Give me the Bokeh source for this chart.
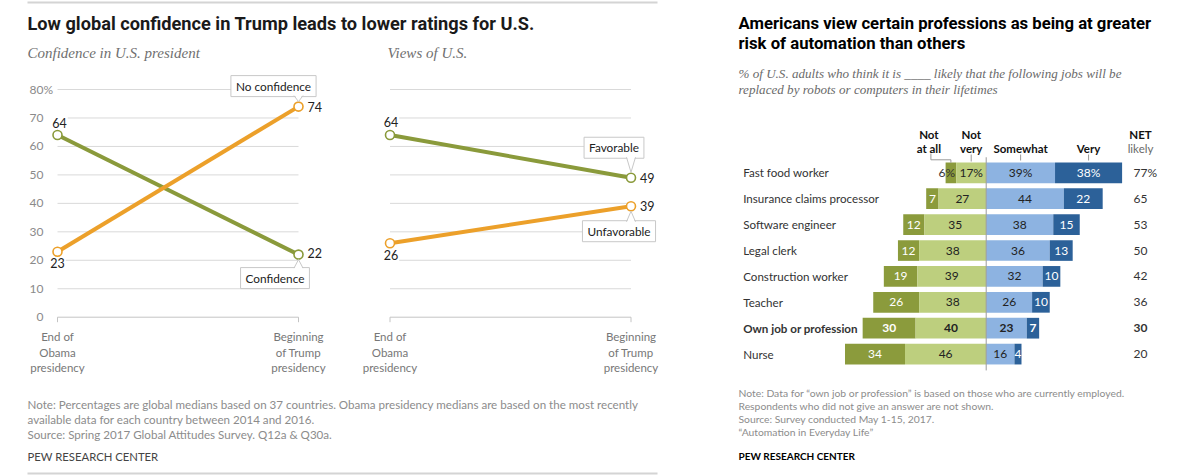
from bokeh.plotting import figure
from bokeh.models import Range1d, ColumnDataSource
from bokeh.layouts import row
from bokeh.embed import file_html
from bokeh.resources import INLINE
from bokeh.core.properties import value

# ---------------- data: left panel ----------------
periods = ["End of\nObama\npresidency", "Beginning\nof Trump\npresidency"]
confidence = [64, 22]
no_confidence = [23, 74]
favorable = [64, 49]
unfavorable = [26, 39]
y_ticks = [0, 10, 20, 30, 40, 50, 60, 70, 80]
y_tick_labels = ["0", "10", "20", "30", "40", "50", "60", "70", "80"]

# ---------------- data: right panel ----------------
jobs = ["Fast food worker", "Insurance claims processor", "Software engineer",
        "Legal clerk", "Construction worker", "Teacher",
        "Own job or profession", "Nurse"]
not_at_all = [6, 7, 12, 12, 19, 26, 30, 34]
not_very = [17, 27, 35, 38, 39, 38, 40, 46]
somewhat = [39, 44, 38, 36, 32, 26, 23, 16]
very = [38, 22, 15, 13, 10, 10, 7, 4]
net_likely = [77, 65, 53, 50, 42, 36, 30, 20]

# ---------------- styles ----------------
SANS = value("Lato")
HEAD = value("Roboto")
SERIF = value("Liberation Serif")
GREEN = "#8a9a3b"
ORANGE = "#eca02a"
C_NOTALL = "#8b9b3c"
C_NOTVERY = "#bdcf7e"
C_SOME = "#8db3e1"
C_VERY = "#2c6199"
GRID = "#d9d9d9"
NOTE = "#8c8c8c"


def make_canvas(w, h):
    p = figure(width=w, height=h, x_range=Range1d(0, w), y_range=Range1d(h, 0),
               output_backend="svg", toolbar_location=None,
               x_axis_location=None, y_axis_location=None, min_border=0,
               outline_line_color=None, background_fill_color="white",
               border_fill_color="white")
    p.xgrid.visible = False
    p.ygrid.visible = False
    return p


def ptext(p, x, y, s, size, color="#333333", style="normal", font=SANS,
          align="left", baseline="middle", **kw):
    p.text(x=[x], y=[y], text=[s], text_font=font, text_font_size=f"{size}px",
           text_color=color, text_font_style=style, text_align=align,
           text_baseline=baseline, **kw)


# =============== LEFT PANEL =================
LW, LH = 688, 476
Y_ZERO = 316.7      # screen y of value 0
Y_PX = 2.846        # px per percentage point
X_PX = 241.0        # px between the two periods
X0 = {"conf": 57.0, "views": 389.5}

L = make_canvas(LW, LH)
L.extra_x_ranges = {k: Range1d(-v / X_PX, (LW - v) / X_PX) for k, v in X0.items()}
L.extra_y_ranges = {"val": Range1d((Y_ZERO - LH) / Y_PX, Y_ZERO / Y_PX)}
xs = list(range(len(periods)))


def dv(px):
    """screen px offset (down positive) -> value delta"""
    return -px / Y_PX


def slope_panel(rn, series, labels, callouts, show_ticks):
    kw = dict(x_range_name=rn, y_range_name="val")
    # grid
    L.segment(x0=[xs[0]] * (len(y_ticks) - 1), x1=[xs[-1]] * (len(y_ticks) - 1),
              y0=y_ticks[1:], y1=y_ticks[1:], line_color=GRID, line_width=1, **kw)
    L.segment(x0=[xs[0]], x1=[xs[-1]], y0=[y_ticks[0]], y1=[y_ticks[0]],
              line_color="#c4c4c4", line_width=1, **kw)
    L.segment(x0=xs, x1=xs, y0=[0] * len(xs), y1=[dv(5)] * len(xs),
              line_color="#c4c4c4", line_width=1, **kw)
    if show_ticks:
        L.text(x=[xs[0]] * len(y_ticks), y=y_ticks, text=y_tick_labels,
               x_offset=-14, text_align="right", text_baseline="middle",
               text_font=SANS, text_font_size="12px", text_color="#8a8a8a", **kw)
        L.text(x=[xs[0]], y=[y_ticks[-1]], text=["%"], x_offset=-14,
               text_align="left", text_baseline="middle",
               text_font=SANS, text_font_size="12px", text_color="#8a8a8a", **kw)
    # period labels
    L.text(x=xs, y=[0] * len(xs), text=periods, y_offset=13, text_align="center",
           text_baseline="top", text_font=SANS, text_font_size="11.5px",
           text_color="#777777", text_line_height=1.2, **kw)
    # value labels (white background masks gridlines)
    for (vals, i, dx, dy, align) in labels:
        L.text(x=[xs[i]], y=[vals[i]], text=[str(vals[i])], x_offset=dx, y_offset=dy,
               text_align=align, text_baseline="middle", text_font=SANS,
               text_font_size="12.5px", text_color="#222222",
               background_fill_color="white", padding=1, **kw)
    # lines + markers
    for vals, color in series:
        L.line(x=xs, y=vals, line_color=color, line_width=4, **kw)
        L.scatter(x=xs, y=vals, size=9, fill_color="white", line_color=color,
                  line_width=1.6, **kw)
    # callouts
    half = 4.5 / X_PX
    for (name, vals, i, dx, dy, edge, tip) in callouts:
        x, v = xs[i], vals[i]
        L.text(x=[x], y=[v], text=[name], x_offset=dx, y_offset=dy,
               text_align="center", text_baseline="middle", text_font=SANS,
               text_font_size="11.8px", text_color="#222222",
               background_fill_color="white", border_line_color="#c8c8c8",
               border_line_width=1, padding=(5, 3), **kw)
        cover = edge + (-1.5 if edge < 0 else 1.5)
        L.patch(x=[x - half, x + half, x], y=[v + dv(cover), v + dv(cover), v + dv(tip)],
                fill_color="white", line_color=None, **kw)
        L.multi_line(xs=[[x - half, x], [x + half, x]],
                     ys=[[v + dv(edge), v + dv(tip)], [v + dv(edge), v + dv(tip)]],
                     line_color="#c8c8c8", line_width=1, **kw)


slope_panel("conf",
            [(confidence, GREEN), (no_confidence, ORANGE)],
            [(confidence, 0, 2, -12, "center"), (confidence, 1, 8, -2, "left"),
             (no_confidence, 0, 0, 11, "center"), (no_confidence, 1, 8, 0, "left")],
            [("No confidence", no_confidence, 1, -25, -20.5, -11, -5),
             ("Confidence", confidence, 1, -23.5, 23.5, 13.5, 5)],
            True)
slope_panel("views",
            [(favorable, GREEN), (unfavorable, ORANGE)],
            [(favorable, 0, 1, -13, "center"), (favorable, 1, 8, 0, "left"),
             (unfavorable, 0, 1, 12, "center"), (unfavorable, 1, 8, 0, "left")],
            [("Favorable", favorable, 1, -17, -30, -20.5, -5.5),
             ("Unfavorable", unfavorable, 1, -12, 25, 15.5, 5)],
            False)

L.segment(x0=[27], x1=[657], y0=[2], y1=[2], line_color="#d4d4d4", line_width=2)
L.segment(x0=[27], x1=[657], y0=[473], y1=[473], line_color="#d4d4d4", line_width=2)
ptext(L, 27, 23, "Low global confidence in Trump leads to lower ratings for U.S.", 18.2,
      color="#1a1a1a", style="bold", font=HEAD)
ptext(L, 27, 52, "Confidence in U.S. president", 15, color="#707070", style="italic", font=SERIF)
ptext(L, 387, 52, "Views of U.S.", 15, color="#707070", style="italic", font=SERIF)
ptext(L, 27, 404, "Note: Percentages are global medians based on 37 countries. Obama presidency "
      "medians are based on the most recently", 11.6, color=NOTE)
ptext(L, 27, 419, "available data for each country between 2014 and 2016.", 11.6, color=NOTE)
ptext(L, 27, 434, "Source: Spring 2017 Global Attitudes Survey. Q12a & Q30a.", 11.6, color=NOTE)
ptext(L, 27, 456, "PEW RESEARCH CENTER", 11.3, color="#444444")

# =============== RIGHT PANEL =================
RW, RH = 489, 476
CX = 297.7          # screen x of the 0 divider
PCT_PX = 1.765      # px per percentage point
ROW0 = 172.3        # screen y of first row
ROW_PX = 25.9       # px between rows

R = make_canvas(RW, RH)
R.extra_x_ranges = {"pct": Range1d(-CX / PCT_PX, (RW - CX) / PCT_PX)}
R.extra_y_ranges = {"row": Range1d((RH - ROW0) / ROW_PX, -ROW0 / ROW_PX)}
rk = dict(x_range_name="pct", y_range_name="row")

idx = list(range(len(jobs)))
bold_row = jobs.index("Own job or profession")
styles = ["bold" if i == bold_row else "normal" for i in idx]
src = ColumnDataSource(dict(
    y=idx,
    na_l=[-(a + b) for a, b in zip(not_at_all, not_very)],
    na_r=[-b for b in not_very],
    nv_l=[-b for b in not_very],
    zero=[0] * len(idx),
    s_r=somewhat,
    v_r=[s + v for s, v in zip(somewhat, very)],
    na_c=[-(b + a / 2) for a, b in zip(not_at_all, not_very)],
    nv_c=[-b / 2 for b in not_very],
    s_c=[s / 2 for s in somewhat],
    v_c=[s + v / 2 for s, v in zip(somewhat, very)],
    na_t=[f"{v}%" if i == 0 else str(v) for i, v in enumerate(not_at_all)],
    nv_t=[f"{v}%" if i == 0 else str(v) for i, v in enumerate(not_very)],
    s_t=[f"{v}%" if i == 0 else str(v) for i, v in enumerate(somewhat)],
    v_t=[f"{v}%" if i == 0 else str(v) for i, v in enumerate(very)],
    net_t=[f"{v}%" if i == 0 else str(v) for i, v in enumerate(net_likely)],
    job=jobs,
    style=styles,
    na_col=["#333333"] + ["white"] * (len(idx) - 1),
    na_off=[-4] + [0] * (len(idx) - 1),
    netx=[445] * len(idx),
    labx=[54.7] * len(idx),
))

H = 0.8
R.hbar(y="y", left="na_l", right="na_r", height=H, fill_color=C_NOTALL, line_color=None, source=src, **rk)
R.hbar(y="y", left="nv_l", right="zero", height=H, fill_color=C_NOTVERY, line_color=None, source=src, **rk)
R.hbar(y="y", left="zero", right="s_r", height=H, fill_color=C_SOME, line_color=None, source=src, **rk)
R.hbar(y="y", left="s_r", right="v_r", height=H, fill_color=C_VERY, line_color=None, source=src, **rk)

lab = dict(text_font=SANS, text_font_size="12px", text_align="center",
           text_baseline="middle", text_font_style="style", source=src, **rk)
R.text(x="na_c", y="y", text="na_t", text_color="na_col", x_offset="na_off", **lab)
R.text(x="nv_c", y="y", text="nv_t", text_color="#222222", **lab)
R.text(x="s_c", y="y", text="s_t", text_color="#222222", **lab)
R.text(x="v_c", y="y", text="v_t", text_color="white", **lab)

# divider
R.segment(x0=[0], x1=[0], y0=[-0.6], y1=[len(jobs) - 1 + 0.63], line_color="#9a9a9a",
          line_width=1, **rk)

# row labels and NET column (fixed screen columns)
R.text(x="labx", y="y", text="job", text_font=SANS, text_font_size="11.6px",
       text_color="#333333", text_font_style="style", text_align="left",
       text_baseline="middle", source=src, y_range_name="row")
R.text(x="netx", y="y", text="net_t", text_font=SANS, text_font_size="12px",
       text_color="#333333", text_font_style="style", text_align="left",
       text_baseline="middle", source=src, y_range_name="row")

# column headers, centred on first-row segments
hk = dict(text_font=SANS, text_font_size="11.5px", text_color="#111111",
          text_font_style="bold", text_align="center", text_baseline="middle",
          x_range_name="pct")
c_na = -(not_very[0] + not_at_all[0] / 2)
c_nv = -not_very[0] / 2
c_s = somewhat[0] / 2
c_v = somewhat[0] + very[0] / 2
R.text(x=[c_na, c_na], y=[134, 148.3], text=["Not", "at all"], x_offset=-22, **hk)
R.text(x=[c_nv, c_nv], y=[134, 148.3], text=["Not", "very"], **hk)
R.text(x=[c_s, c_v], y=[148.3, 148.3], text=["Somewhat", "Very"], **hk)
ptext(R, 452, 134, "NET", 11.5, color="#111111", style="bold", align="center")
ptext(R, 452, 148.3, "likely", 11.5, color="#6a6a6a", align="center")

off = 20 / PCT_PX
R.multi_line(xs=[[c_na - off, c_na - off, c_na, c_na], [c_nv, c_nv], [c_s, c_s], [c_v, c_v]],
             ys=[[153, 159.3, 159.3, 162.3], [154, 161], [154, 160], [154, 160]],
             line_color="#9a9a9a", line_width=1, x_range_name="pct")

ptext(R, 50, 23, "Americans view certain professions as being at greater", 16.7,
      color="#000000", style="bold", font=HEAD)
ptext(R, 50, 43, "risk of automation than others", 16.7, color="#000000", style="bold", font=HEAD)
ptext(R, 50, 73, "% of U.S. adults who think it is ____ likely that the following jobs will be",
      13.1, color="#6a6a6a", style="italic", font=SERIF)
ptext(R, 50, 89, "replaced by robots or computers in their lifetimes",
      13.1, color="#6a6a6a", style="italic", font=SERIF)
ptext(R, 50, 392.7, "Note: Data for \u201cown job or profession\u201d is based on those who are "
      "currently employed.", 10.35, color=NOTE)
ptext(R, 50, 405, "Respondents who did not give an answer are not shown.", 10.35, color=NOTE)
ptext(R, 50, 418, "Source: Survey conducted May 1-15, 2017.", 10.35, color=NOTE)
ptext(R, 50, 431.7, "\u201cAutomation in Everyday Life\u201d", 10.35, color=NOTE)
ptext(R, 50, 455, "PEW RESEARCH CENTER", 10, color="#000000", style="bold")

layout = row(L, R)
open("out.html", "w").write(file_html(layout, INLINE))
